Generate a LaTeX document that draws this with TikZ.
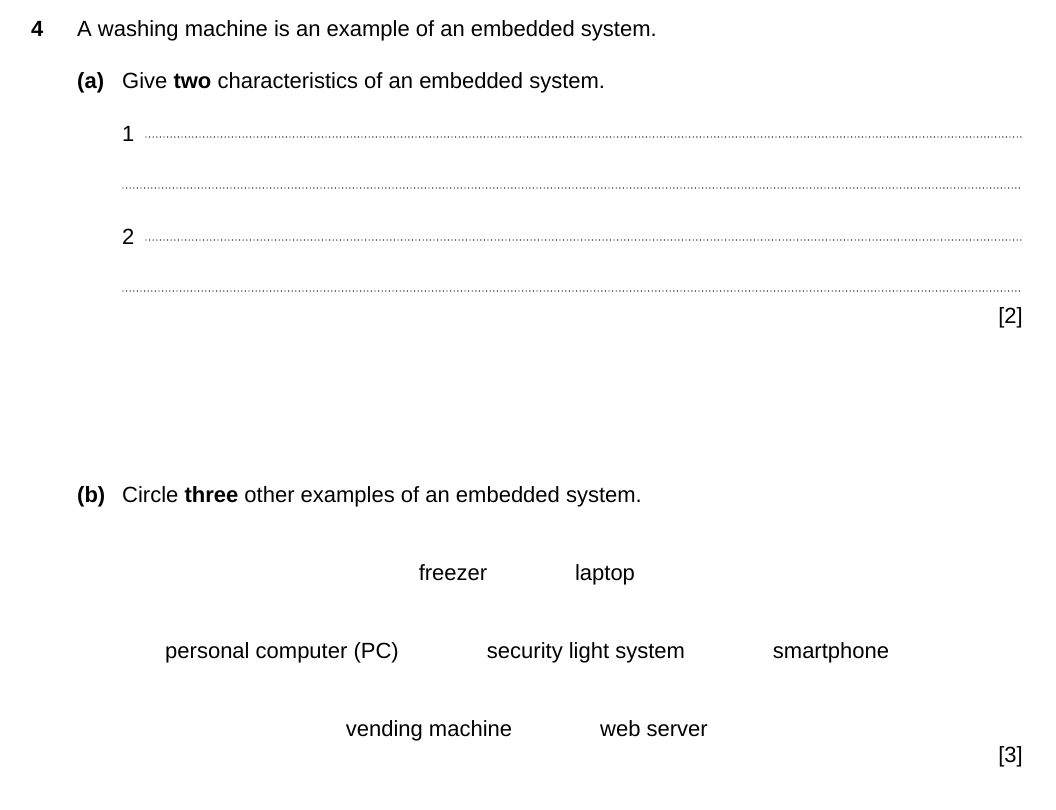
\documentclass[tikz,border=0pt]{standalone}
\usepackage{fontspec}
\setmainfont{Liberation Sans}
\begin{document}
\begin{tikzpicture}[x=1pt,y=-1pt,
  txt/.style={inner sep=0pt,anchor=base west,font=\fontsize{22}{26}\selectfont},
  ctr/.style={inner sep=0pt,anchor=base,font=\fontsize{22}{26}\selectfont},
  rgt/.style={inner sep=0pt,anchor=base east,font=\fontsize{22}{26}\selectfont},
  dots/.style={line width=1.4pt,line cap=round,dash pattern=on 0pt off 3.6pt}]
\useasboundingbox (0,0) rectangle (1056,809);
\node[txt] (q) at (31,36) {\textbf{4}};
\node[txt] (qt) at (77,36) {A washing machine is an example of an embedded system.};
\node[txt] (a) at (77,88) {\textbf{(a)}};
\node[txt] (at) at (122,88) {Give \textbf{two} characteristics of an embedded system.};
\node[txt] (n1) at (122,141) {1};
\node[txt] (n2) at (122,244) {2};
\coordinate (l1a) at (146,137); \coordinate (l1b) at (1022,137);
\coordinate (l2a) at (123,188); \coordinate (l2b) at (1022,188);
\coordinate (l3a) at (146,240); \coordinate (l3b) at (1022,240);
\coordinate (l4a) at (123,291); \coordinate (l4b) at (1022,291);
\draw[dots] (l1a) -- (l1b);
\draw[dots] (l2a) -- (l2b);
\draw[dots] (l3a) -- (l3b);
\draw[dots] (l4a) -- (l4b);
\node[rgt] (m2) at (1023,323) {[2]};
\node[txt] (b) at (77,502) {\textbf{(b)}};
\node[txt] (bt) at (122,502) {Circle \textbf{three} other examples of an embedded system.};
\node[ctr] (f) at (453,580) {freezer};
\node[ctr] (l) at (605,580) {laptop};
\node[ctr] (pc) at (282,658) {personal computer (PC)};
\node[ctr] (s) at (586,658) {security light system};
\node[ctr] (sp) at (831,658) {smartphone};
\node[ctr] (v) at (429,736) {vending machine};
\node[ctr] (w) at (654,736) {web server};
\node[rgt] (m3) at (1023,762) {[3]};
\end{tikzpicture}
\end{document}
